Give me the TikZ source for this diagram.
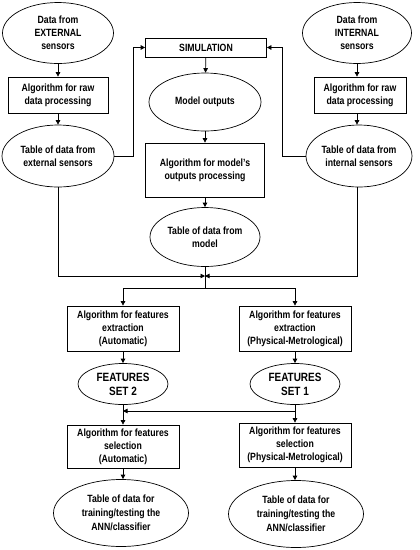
\documentclass[tikz,border=0pt]{standalone}
\usepackage{fontspec}
\setmainfont{Liberation Sans}[FakeStretch=0.83]
\usetikzlibrary{shapes.geometric,arrows.meta}
\begin{document}
\begin{tikzpicture}[x=1pt,y=-1pt,line width=0.7pt,
    font=\bfseries\fontsize{10.5}{13}\selectfont,
    box/.style={draw,rectangle,align=center,inner sep=0pt},
    oval/.style={draw,ellipse,align=center,inner sep=0pt},
    arr/.style={-{Triangle[length=4.5pt,width=4.5pt]}}]
\useasboundingbox (0,0) rectangle (420,550);

%sensori esterni (colonna sinistra)
\node[oval,minimum width=111pt,minimum height=61pt] (extdata) at (58,33) {Data from\\EXTERNAL\\sensors};
\node[box,minimum width=100pt,minimum height=36pt] (extalg) at (58,95) {Algorithm for raw\\data processing};
\node[oval,minimum width=112pt,minimum height=62pt] (exttab) at (58,156) {Table of data from\\external sensors};

%sensori interni (colonna destra)
\node[oval,minimum width=109pt,minimum height=61pt] (intdata) at (357,33) {Data from\\INTERNAL\\sensors};
\node[box,minimum width=92pt,minimum height=36pt] (intalg) at (360,95) {Algorithm for raw\\data processing};
\node[oval,minimum width=106pt,minimum height=62pt] (inttab) at (359,156) {Table of data from\\internal sensors};

%simulazione (colonna centrale)
\node[box,minimum width=121pt,minimum height=19pt] (sim) at (206,47.5) {SIMULATION};
\node[oval,minimum width=112pt,minimum height=58pt] (modout) at (205,102) {Model outputs};
\node[box,minimum width=119pt,minimum height=54pt] (modalg) at (205,170) {Algorithm for model’s\\outputs processing};
\node[oval,minimum width=110pt,minimum height=59pt] (modtab) at (205,237) {Table of data from\\model};

%estrazione e selezione delle features
\node[box,minimum width=112pt,minimum height=45pt] (featext2) at (123,328.5) {Algorithm for features\\extraction\\(Automatic)};
\node[box,minimum width=112pt,minimum height=45pt] (featext1) at (295,328.5) {Algorithm for features\\extraction\\(Physical-Metrological)};
\node[oval,minimum width=90pt,minimum height=41pt,font=\bfseries\fontsize{12}{14}\selectfont] (feat2) at (123,384) {FEATURES\\SET 2};
\node[oval,minimum width=90pt,minimum height=41pt,font=\bfseries\fontsize{12}{14}\selectfont] (feat1) at (295,384) {FEATURES\\SET 1};
\node[box,minimum width=112pt,minimum height=43pt] (sel2) at (123,446.5) {Algorithm for features\\selection\\(Automatic)};
\node[box,minimum width=112pt,minimum height=44pt] (sel1) at (295,445) {Algorithm for features\\selection\\(Physical-Metrological)};
\node[oval,minimum width=135pt,minimum height=67pt,font=\bfseries\fontsize{10.5}{14}\selectfont] (tab2) at (121,513) {Table of data for\\training/testing the\\ANN/classifier};
\node[oval,minimum width=135pt,minimum height=67pt,font=\bfseries\fontsize{10.5}{14}\selectfont] (tab1) at (296,514) {Table of data for\\training/testing the\\ANN/classifier};

%frecce verticali
\draw[arr] (extdata) -- (extalg);
\draw[arr] (extalg) -- (exttab);
\draw[arr] (intdata.south) -- (intdata.south |- intalg.north);
\draw[arr] (intalg.south -| intdata.south) -- (inttab.north -| intdata.south);
\draw[arr] (sim) -- (modout);
\draw[arr] (modout) -- (modalg);
\draw[arr] (modalg) -- (modtab);

%tabelle dei sensori verso la simulazione
\coordinate (extbend) at (133,156);
\coordinate (intbend) at (282,156);
\draw[arr] (exttab.east) -- (extbend) |- (sim.west);
\draw[arr] (inttab.west) -- (intbend) |- (sim.east);

%unione e divisione
\coordinate (join) at (205,276);
\coordinate (split) at (205,288);
\draw[arr] (exttab.south) |- (join);
\draw[arr] (inttab.south -| intdata.south) |- (join);
\draw (modtab.south) -- (split);
\draw[arr] (split) -| (featext2.north);
\draw[arr] (split) -| (featext1.north);

%features
\draw[arr] (featext2) -- (feat2);
\draw[arr] (featext1) -- (feat1);
\draw[arr] (feat2) -- (sel2);
\draw[arr] (feat1) -- (sel1);
\coordinate (branch) at (295,411);
\draw[arr] (branch) -- (feat2.south |- branch);
\draw[arr] (sel2) -- (tab2.north -| sel2.south);
\draw[arr] (sel1) -- (tab1.north -| sel1.south);
\end{tikzpicture}
\end{document}
